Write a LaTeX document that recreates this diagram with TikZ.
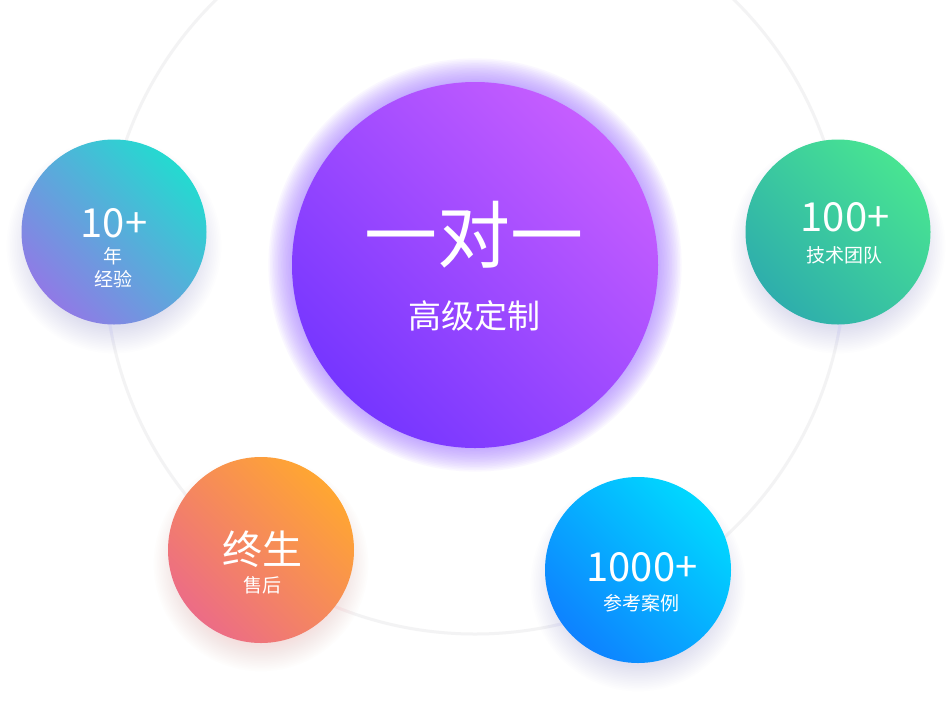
\documentclass[tikz,border=0pt]{standalone}
\usepackage{fontspec}
\setmainfont{Noto Sans CJK SC}
\definecolor{ringgray}{HTML}{F3F3F4}
\definecolor{coreTR}{HTML}{C65EFF}
\definecolor{coreBL}{HTML}{7636FF}
\definecolor{coreGlow}{HTML}{A070FF}
\definecolor{tealTR}{HTML}{24DAD0}
\definecolor{tealBL}{HTML}{907AE6}
\definecolor{greenTR}{HTML}{48E492}
\definecolor{greenBL}{HTML}{2EAEAC}
\definecolor{orangeTR}{HTML}{FFA632}
\definecolor{orangeBL}{HTML}{EC6C86}
\definecolor{blueTR}{HTML}{00D8FF}
\definecolor{blueBL}{HTML}{0E82FF}
\definecolor{shadowLav}{HTML}{B0B0F0}
\definecolor{shadowPink}{HTML}{F4B0A8}
\newcommand\softglow[7]{% x, y, r, color, y-offset, opacity, step
  \foreach \k in {1,...,16}{%
    \fill[#4,opacity=#6] (#1,#2+#5) circle[radius={#3pt+\k*#7pt}];}%
}
\tikzset{
  ring/.style={draw=ringgray, line width=3pt},
  disc/.style={circle, inner sep=0pt, draw=none},
  grad/.style 2 args={top color=#1, bottom color=#2, shading angle=-45},
  bignum/.style={text=white, inner sep=0pt, font=\fontsize{40}{40}\selectfont},
  smalltxt/.style={text=white, inner sep=0pt, font=\fontsize{19}{19}\selectfont},
}
\begin{document}
\begin{tikzpicture}[x=1pt,y=-1pt]
\useasboundingbox (0,0) rectangle (952,710);
\clip (0,0) rectangle (952,710);
\fill[white] (0,0) rectangle (952,710);
\coordinate (ringc) at (475,264);
\draw[ring] (ringc) circle[radius=370pt];
% glows and shadows
\softglow{475}{265}{181}{coreGlow}{0}{0.05}{1.6}
\softglow{114}{232}{80}{shadowLav}{14}{0.022}{1.7}
\softglow{838}{232}{80}{shadowLav}{14}{0.022}{1.7}
\softglow{261}{550}{80}{shadowPink}{14}{0.022}{1.7}
\softglow{638}{570}{80}{shadowLav}{14}{0.022}{1.7}
% discs
\node[disc, minimum size=366pt, grad={coreTR}{coreBL}] (core) at (475,265) {};
\node[disc, minimum size=185pt, grad={tealTR}{tealBL}] (years) at (114,232) {};
\node[disc, minimum size=185pt, grad={greenTR}{greenBL}] (team) at (838,232) {};
\node[disc, minimum size=186pt, grad={orangeTR}{orangeBL}] (life) at (261,550) {};
\node[disc, minimum size=186pt, grad={blueTR}{blueBL}] (cases) at (638,570) {};
% texts
\node[text=white, inner sep=0pt, font=\fontsize{73}{73}\selectfont] (coreA) at (474,235) {一对一};
\node[text=white, inner sep=0pt, font=\fontsize{33}{33}\selectfont] (coreB) at (474,316) {高级定制};
\node[bignum] (yearsA) at (114,223) {10+};
\node[smalltxt] (yearsB) at (113,256) {年};
\node[smalltxt] (yearsC) at (113,279) {经验};
\node[bignum] (teamA) at (845,217) {100+};
\node[smalltxt] (teamB) at (844,255) {技术团队};
\node[text=white, inner sep=0pt, font=\fontsize{40}{40}\selectfont] (lifeA) at (262,549) {终生};
\node[smalltxt] (lifeB) at (262,585) {售后};
\node[bignum] (casesA) at (642,567) {1000+};
\node[smalltxt] (casesB) at (641,603) {参考案例};
\end{tikzpicture}
\end{document}
